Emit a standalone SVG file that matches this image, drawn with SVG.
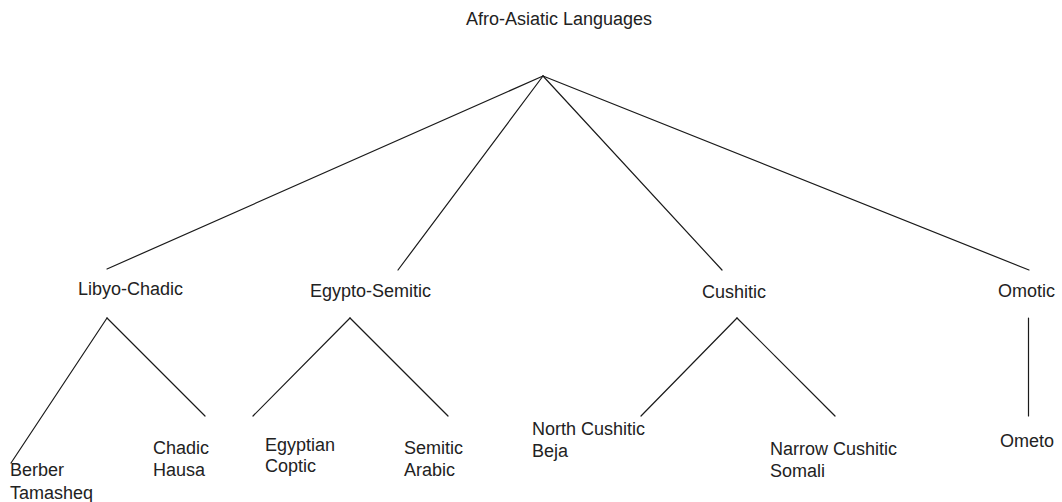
<svg xmlns="http://www.w3.org/2000/svg" width="1062" height="502" viewBox="0 0 1062 502">
  <style>
    .lbl { font-family: "Liberation Sans", Arial, sans-serif; font-size: 18px; fill: #222; }
    .edge { stroke: #1a1a1a; stroke-width: 1.2; fill: none; stroke-linecap: round; }
  </style>
  <rect width="1062" height="502" fill="#fff"/>

  <!-- tree branches -->
  <g id="connectors">
    <!-- root to the four branches -->
    <line class="edge" x1="543" y1="76" x2="107" y2="269"/>
    <line class="edge" x1="543" y1="76" x2="398" y2="270"/>
    <line class="edge" x1="543" y1="76" x2="722" y2="270"/>
    <line class="edge" x1="543" y1="76" x2="1029" y2="270"/>
    <!-- Libyo-Chadic -->
    <line class="edge" x1="107" y1="318" x2="11" y2="463"/>
    <line class="edge" x1="107" y1="318" x2="205" y2="416"/>
    <!-- Egypto-Semitic -->
    <line class="edge" x1="350" y1="318" x2="253" y2="416"/>
    <line class="edge" x1="350" y1="318" x2="448" y2="416"/>
    <!-- Cushitic -->
    <line class="edge" x1="737" y1="318" x2="641" y2="416"/>
    <line class="edge" x1="737" y1="318" x2="835" y2="416"/>
    <!-- Omotic -->
    <line class="edge" x1="1028.5" y1="318" x2="1028.5" y2="416"/>
  </g>

  <g id="root"><text class="lbl" x="466" y="25">Afro-Asiatic Languages</text></g>

  <g id="libyo-chadic"><text class="lbl" x="78" y="295">Libyo-Chadic</text></g>
  <g id="egypto-semitic"><text class="lbl" x="310" y="297">Egypto-Semitic</text></g>
  <g id="cushitic"><text class="lbl" x="702" y="298">Cushitic</text></g>
  <g id="omotic"><text class="lbl" x="998" y="297">Omotic</text></g>

  <g id="berber"><text class="lbl" x="10" y="476">Berber<tspan x="10" y="499">Tamasheq</tspan></text></g>
  <g id="chadic"><text class="lbl" x="153" y="454">Chadic<tspan x="153" y="476">Hausa</tspan></text></g>
  <g id="egyptian"><text class="lbl" x="265" y="451">Egyptian<tspan x="265" y="472">Coptic</tspan></text></g>
  <g id="semitic"><text class="lbl" x="404" y="454">Semitic<tspan x="404" y="476">Arabic</tspan></text></g>
  <g id="north-cushitic"><text class="lbl" x="532" y="435">North Cushitic<tspan x="532" y="457">Beja</tspan></text></g>
  <g id="narrow-cushitic"><text class="lbl" x="770" y="455">Narrow Cushitic<tspan x="770" y="477">Somali</tspan></text></g>
  <g id="ometo"><text class="lbl" x="1000" y="447">Ometo</text></g>
</svg>
